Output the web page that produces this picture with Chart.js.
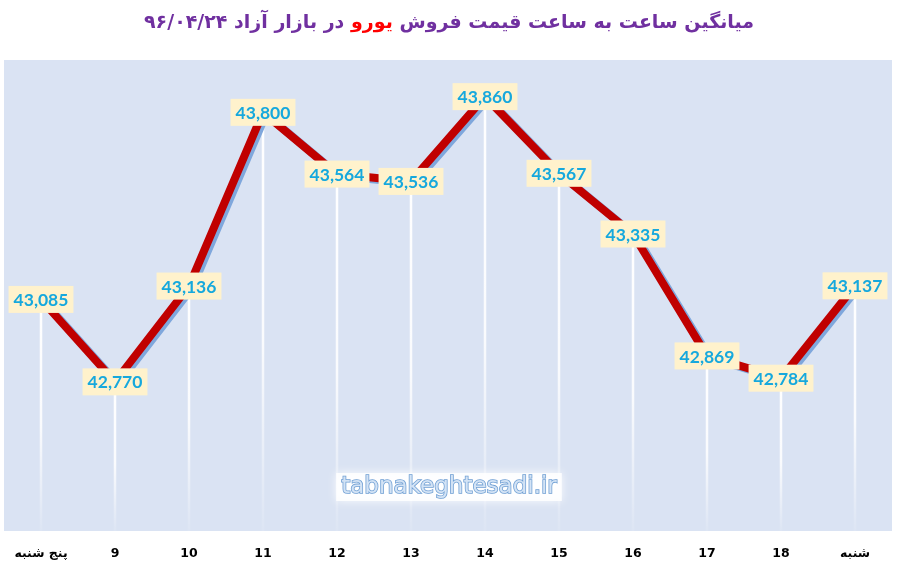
<!DOCTYPE html>
<html>
<head>
<meta charset="utf-8">
<script src="https://cdn.jsdelivr.net/npm/chart.js@4/dist/chart.umd.min.js"></script>
<style>
  html,body{margin:0;padding:0;background:#ffffff;}
  #wrap{position:relative;width:898px;height:568px;}
  #title{position:absolute;left:0;top:10px;width:898px;text-align:center;direction:rtl;
    font-family:"DejaVu Sans",sans-serif;font-weight:bold;font-size:19px;color:#7030a0;white-space:nowrap;}
  #title .red{color:#ff0000;}
  canvas{position:absolute;left:0;top:0;}
</style>
</head>
<body>
<div id="wrap">
  <canvas id="c" width="898" height="568"></canvas>
  <div id="title">میانگین ساعت به ساعت قیمت فروش <span class="red">یورو</span> در بازار آزاد ۹۶/۰۴/۲۴</div>
</div>
<script>
const categories = ["پنج شنبه","9","10","11","12","13","14","15","16","17","18","شنبه"];
const prices = [43085,42770,43136,43800,43564,43536,43860,43567,43335,42869,42784,43137];
const yMin = 42200;
const yMax = 44000;
const watermark = "tabnakeghtesadi.ir";

const bgPlugin = {
  id:'bgPlugin',
  beforeDraw(chart){
    const {ctx, chartArea:a} = chart;
    ctx.save();
    ctx.fillStyle = '#dae3f3';
    ctx.fillRect(a.left, a.top, a.right-a.left, a.bottom-a.top);
    ctx.restore();
  },
  beforeDatasetsDraw(chart){
    const {ctx, chartArea:a} = chart;
    const meta = chart.getDatasetMeta(0);
    ctx.save();
    meta.data.forEach(pt=>{
      const g = ctx.createLinearGradient(0, pt.y, 0, a.bottom);
      g.addColorStop(0,'rgba(255,255,255,1)');
      g.addColorStop(0.55,'rgba(255,255,255,0.85)');
      g.addColorStop(1,'rgba(255,255,255,0.08)');
      ctx.strokeStyle = g;
      ctx.lineWidth = 2.5;
      ctx.beginPath();
      ctx.moveTo(pt.x, pt.y);
      ctx.lineTo(pt.x, a.bottom);
      ctx.stroke();
    });
    // watermark
    const cx = 449, cy = 487;
    ctx.font = '23px "DejaVu Sans", sans-serif';
    const w = ctx.measureText(watermark).width;
    ctx.shadowColor = 'rgba(255,255,255,1)';
    ctx.shadowBlur = 10;
    ctx.fillStyle = 'rgba(255,255,255,0.85)';
    ctx.fillRect(cx - w/2 - 5, cy - 14, w + 10, 28);
    ctx.shadowBlur = 0;
    ctx.textAlign = 'center';
    ctx.textBaseline = 'middle';
    ctx.lineWidth = 1.6;
    ctx.strokeStyle = '#6f9fd4';
    ctx.strokeText(watermark, cx, cy);
    ctx.fillStyle = '#d3e3f5';
    ctx.fillText(watermark, cx, cy);
    ctx.restore();
  }
};

const shadowPlugin = {
  id:'shadowPlugin',
  beforeDatasetDraw(chart){
    const ctx = chart.ctx;
    ctx.save();
    ctx.shadowColor = '#7fa7dc';
    ctx.shadowOffsetX = 3;
    ctx.shadowOffsetY = 2;
    ctx.shadowBlur = 0;
  },
  afterDatasetDraw(chart){
    chart.ctx.restore();
  }
};

const labelPlugin = {
  id:'labelPlugin',
  afterDatasetsDraw(chart){
    const ctx = chart.ctx;
    const meta = chart.getDatasetMeta(0);
    ctx.save();
    ctx.font = 'bold 17.5px Lato, "Open Sans", sans-serif';
    ctx.textAlign = 'center';
    ctx.textBaseline = 'middle';
    meta.data.forEach((pt,i)=>{
      const txt = prices[i].toLocaleString('en-US');
      const w = ctx.measureText(txt).width + 10;
      const h = 27;
      ctx.fillStyle = '#fff2cc';
      ctx.fillRect(pt.x - w/2, pt.y - h/2, w, h);
      ctx.fillStyle = '#16a8dd';
      ctx.fillText(txt, pt.x, pt.y + 1);
    });
    ctx.restore();
  }
};

new Chart(document.getElementById('c'), {
  type:'line',
  data:{
    labels: categories,
    datasets:[{
      data: prices,
      borderColor:'#c00000',
      borderWidth:8,
      pointRadius:0,
      pointHoverRadius:0,
      tension:0,
      borderJoinStyle:'round',
      borderCapStyle:'round',
      fill:false
    }]
  },
  options:{
    responsive:false,
    animation:false,
    events:[],
    layout:{padding:{left:4,right:6,top:60,bottom:0}},
    plugins:{legend:{display:false},tooltip:{enabled:false},title:{display:false}},
    scales:{
      x:{
        offset:true,
        grid:{display:false},
        border:{display:false},
        ticks:{color:'#000000',font:{family:'"DejaVu Sans", sans-serif',weight:'bold',size:12.5},padding:7,maxRotation:0,autoSkip:false},
        afterFit(axis){ axis.height = 37; }
      },
      y:{display:false,min:yMin,max:yMax}
    }
  },
  plugins:[bgPlugin, shadowPlugin, labelPlugin]
});
</script>
</body>
</html>
